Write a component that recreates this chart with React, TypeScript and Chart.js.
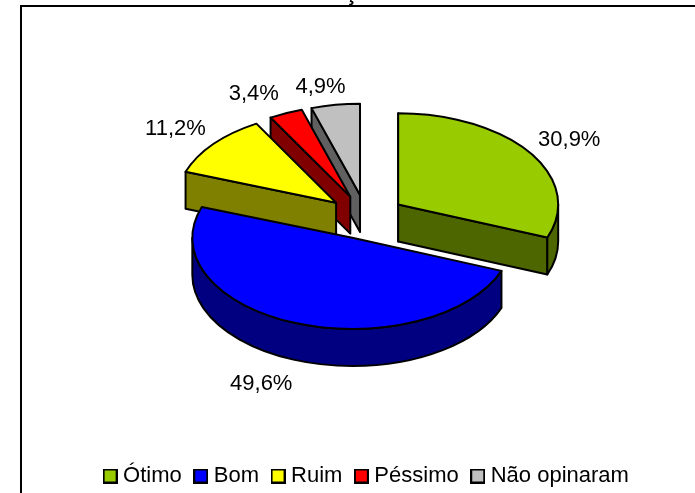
import React, { useEffect, useRef } from "react";
import { Chart, registerables } from "chart.js";

Chart.register(...registerables);

const categories = ["Ótimo", "Bom", "Ruim", "Péssimo", "Não opinaram"];
const shares = [30.9, 49.6, 11.2, 3.4, 4.9];
const valueLabels = ["30,9%", "49,6%", "11,2%", "3,4%", "4,9%"];
const topColors = ["#99CC00", "#0000FF", "#FFFF00", "#FF0000", "#C0C0C0"];
const sideColors = ["#4D6600", "#000080", "#808000", "#800000", "#606060"];
const paintOrder = [4, 3, 2, 0, 1];
const hiddenTitle = "ç";

const FONT = "'Liberation Sans', Arial, sans-serif";
const CENTER = { x: 366, y: 217 };
const TILT = 0.57;
const RADIUS = 160;
const EXPLODE = 39;
const DEPTH = 37;
// label centre relative to the outer rim point on each slice's bisector
const LABEL_NUDGE = [
  [39, -13.5],
  [-35, 60.5],
  [-38, -15.5],
  [-32, -19],
  [-15, -18],
];

const swatch = (color: string) => {
  const c = document.createElement("canvas");
  c.width = 15;
  c.height = 15;
  const x = c.getContext("2d")!;
  x.fillStyle = "#000";
  x.fillRect(0, 0, 15, 15);
  x.fillStyle = color;
  x.fillRect(2, 2, 11, 11);
  return c;
};

const pie3d = {
  id: "pie3d",
  beforeDraw(chart: any) {
    const { ctx } = chart;
    ctx.save();
    ctx.strokeStyle = "#000";
    ctx.lineWidth = 2;
    ctx.strokeRect(21, 6, 760, 560);
    ctx.font = `bold 22px ${FONT}`;
    ctx.fillStyle = "#000";
    ctx.textAlign = "center";
    ctx.textBaseline = "alphabetic";
    ctx.fillText(hiddenTitle, 351, 0);
    ctx.restore();
  },
  beforeDatasetDraw(chart: any) {
    const { ctx } = chart;
    const arcs = chart.getDatasetMeta(0).data;
    const apply = (arc: any) => {
      const mid = (arc.startAngle + arc.endAngle) / 2;
      ctx.translate(CENTER.x, CENTER.y);
      ctx.scale(1, TILT);
      ctx.translate(Math.cos(mid) * EXPLODE - arc.x, Math.sin(mid) * EXPLODE - arc.y);
    };
    for (const i of paintOrder) {
      const arc = arcs[i];
      const mid = (arc.startAngle + arc.endAngle) / 2;
      const r = arc.outerRadius;
      const sx = CENTER.x + Math.cos(mid) * EXPLODE;
      const sy = CENTER.y + Math.sin(mid) * EXPLODE * TILT;
      const a0 = arc.startAngle;
      const a1 = arc.endAngle;

      ctx.save();
      ctx.strokeStyle = "#000";
      ctx.lineWidth = 2;
      ctx.lineJoin = "round";
      ctx.fillStyle = sideColors[i];

      const radial = (angle: number) => {
        const px = sx + Math.cos(angle) * r;
        const py = sy + Math.sin(angle) * r * TILT;
        ctx.beginPath();
        ctx.moveTo(sx, sy);
        ctx.lineTo(px, py);
        ctx.lineTo(px, py + DEPTH);
        ctx.lineTo(sx, sy + DEPTH);
        ctx.closePath();
        ctx.fill();
        ctx.stroke();
      };
      if (Math.sin(a0) < -1e-6) radial(a0);
      if (Math.sin(a1) > 1e-6) radial(a1);

      const v0 = Math.max(a0, 0);
      const v1 = Math.min(a1, Math.PI);
      if (v1 > v0) {
        ctx.beginPath();
        ctx.ellipse(sx, sy, r, r * TILT, 0, v0, v1);
        ctx.ellipse(sx, sy + DEPTH, r, r * TILT, 0, v1, v0, true);
        ctx.closePath();
        ctx.fill();
        ctx.stroke();
      }
      ctx.restore();

      // top face through the library's own arc element
      ctx.save();
      apply(arc);
      arc.draw(ctx);
      ctx.restore();

      // uniform outline of the top face
      ctx.save();
      ctx.beginPath();
      ctx.moveTo(sx, sy);
      ctx.ellipse(sx, sy, r, r * TILT, 0, a0, a1);
      ctx.closePath();
      ctx.strokeStyle = "#000";
      ctx.lineWidth = 2;
      ctx.lineJoin = "round";
      ctx.stroke();
      ctx.restore();
    }
    return false;
  },
  afterDatasetsDraw(chart: any) {
    const { ctx } = chart;
    const arcs = chart.getDatasetMeta(0).data;
    ctx.save();
    ctx.font = `22px ${FONT}`;
    ctx.fillStyle = "#000";
    ctx.textAlign = "center";
    ctx.textBaseline = "middle";
    arcs.forEach((arc: any, i: number) => {
      const mid = (arc.startAngle + arc.endAngle) / 2;
      const px = CENTER.x + Math.cos(mid) * (EXPLODE + arc.outerRadius);
      const py = CENTER.y + Math.sin(mid) * (EXPLODE + arc.outerRadius) * TILT;
      ctx.fillText(valueLabels[i], px + LABEL_NUDGE[i][0], py + LABEL_NUDGE[i][1]);
    });
    ctx.restore();
  },
};

export default function App() {
  const ref = useRef<HTMLCanvasElement>(null);
  useEffect(() => {
    document.body.style.margin = "0";
    const baseLabels = (Chart as any).overrides.pie.plugins.legend.labels.generateLabels;
    const chart = new Chart(ref.current!, {
      type: "pie",
      data: {
        labels: categories,
        datasets: [
          {
            data: shares,
            backgroundColor: topColors,
            borderWidth: 0,
            radius: RADIUS,
          } as any,
        ],
      },
      options: {
        responsive: false,
        animation: false,
        layout: { padding: { left: 42, right: 0, top: 0, bottom: -4 } },
        plugins: {
          tooltip: { enabled: false },
          legend: {
            display: true,
            position: "bottom",
            labels: {
              usePointStyle: true,
              pointStyleWidth: 4,
              padding: 17,
              color: "#000",
              font: { family: FONT, size: 22 },
              generateLabels: (c: any) =>
                baseLabels(c).map((item: any, i: number) => ({
                  ...item,
                  pointStyle: swatch(topColors[i]),
                })),
            },
          },
        },
      } as any,
      plugins: [pie3d],
    });
    return () => chart.destroy();
  }, []);
  return <canvas ref={ref} width={695} height={493} style={{ display: "block" }} />;
}
